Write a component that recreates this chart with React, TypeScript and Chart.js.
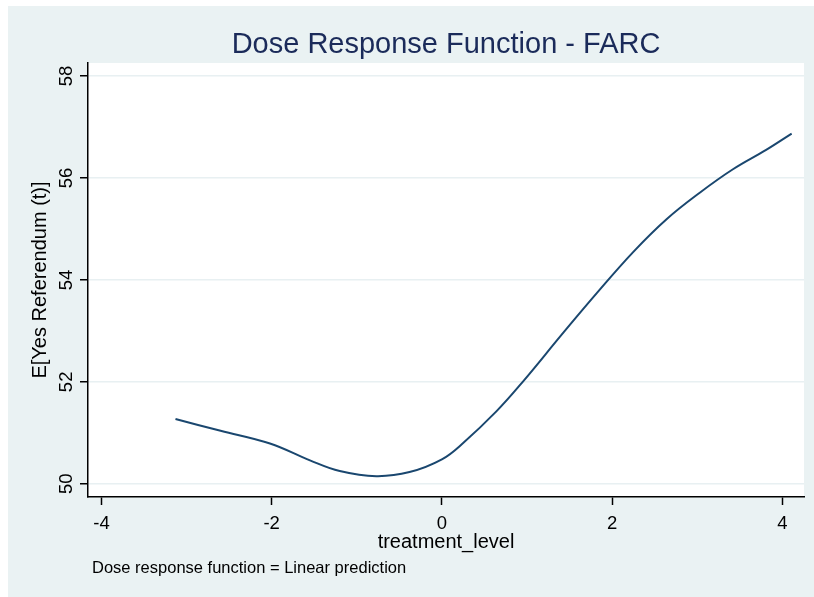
import React, { useEffect, useRef } from 'react';
import { Chart, registerables } from 'chart.js';

Chart.register(...registerables);

// ---- data ----
const treatmentLevel = [-3.13, -2.6, -2.02, -1.55, -1.2, -0.77, -0.38, 0.0, 0.25, 0.64, 0.95, 1.42, 1.82, 2.25, 2.64, 3.03, 3.42, 3.81, 4.11];
const expectedYes = [51.27, 51.04, 50.79, 50.46, 50.25, 50.15, 50.23, 50.48, 50.8, 51.42, 52.0, 52.95, 53.74, 54.55, 55.19, 55.71, 56.17, 56.55, 56.87];
const xTicks = [-4, -2, 0, 2, 4];
const yTicks = [50, 52, 54, 56, 58];
const titleText = 'Dose Response Function - FARC';
const xTitle = 'treatment_level';
const yTitle = 'E[Yes Referendum (t)]';
const noteText = 'Dose response function = Linear prediction';

const FONT = "'Liberation Sans', Arial, sans-serif";
const W = 806;
const H = 591;

const textPlugin = {
  id: 'stataText',
  beforeDraw(chart: any) {
    const { ctx, chartArea } = chart;
    ctx.save();
    ctx.fillStyle = '#ffffff';
    ctx.fillRect(chartArea.left, chartArea.top, chartArea.right - chartArea.left, chartArea.bottom - chartArea.top);
    ctx.restore();
  },
  afterDraw(chart: any) {
    const { ctx, chartArea, scales } = chart;
    const cx = (chartArea.left + chartArea.right) / 2;
    const cy = (chartArea.top + chartArea.bottom) / 2;
    ctx.save();
    // title
    ctx.fillStyle = '#1b2b5a';
    ctx.font = `29px ${FONT}`;
    ctx.textAlign = 'center';
    ctx.textBaseline = 'alphabetic';
    ctx.fillText(titleText, cx, 47.3);
    // x title
    ctx.fillStyle = '#000000';
    ctx.font = `20px ${FONT}`;
    ctx.fillText(xTitle, cx, 542);
    // y title
    ctx.save();
    ctx.translate(37.5, cy);
    ctx.rotate(-Math.PI / 2);
    ctx.fillText(yTitle, 0, 0);
    ctx.restore();
    // y tick labels
    ctx.font = `18.5px ${FONT}`;
    yTicks.forEach((v) => {
      const py = scales.y.getPixelForValue(v);
      ctx.save();
      ctx.translate(63.7, py);
      ctx.rotate(-Math.PI / 2);
      ctx.fillText(String(v), 0, 0);
      ctx.restore();
    });
    // note
    ctx.textAlign = 'left';
    ctx.font = `16.5px ${FONT}`;
    ctx.fillText(noteText, 84, 567.3);
    ctx.restore();
  },
};

export default function App() {
  const ref = useRef<HTMLCanvasElement | null>(null);
  useEffect(() => {
    if (!ref.current) return;
    const chart = new Chart(ref.current, {
      type: 'line',
      data: {
        datasets: [
          {
            data: treatmentLevel.map((x, i) => ({ x, y: expectedYes[i] })),
            borderColor: '#1a476f',
            borderWidth: 2,
            pointRadius: 0,
            tension: 0.4,
            fill: false,
          },
        ],
      },
      options: {
        animation: false,
        responsive: false,
        maintainAspectRatio: false,
        layout: { padding: { top: 57, right: 10, left: 0, bottom: 0 } },
        plugins: {
          legend: { display: false },
          title: { display: false },
          tooltip: { enabled: false },
        },
        scales: {
          x: {
            type: 'linear',
            min: -4.158,
            max: 4.255,
            afterBuildTicks: (s: any) => {
              s.ticks = xTicks.map((v) => ({ value: v }));
            },
            afterFit: (s: any) => {
              s.height = 100;
            },
            grid: { drawOnChartArea: false, drawTicks: true, tickLength: 8, tickColor: '#000', tickWidth: 1.5 },
            border: { display: true, color: '#000', width: 1.5 },
            ticks: { font: { family: FONT, size: 18.5 }, color: '#000', padding: 8, maxRotation: 0, autoSkip: false },
          },
          y: {
            type: 'linear',
            min: 49.741,
            max: 58.255,
            afterBuildTicks: (s: any) => {
              s.ticks = yTicks.map((v) => ({ value: v }));
            },
            afterFit: (s: any) => {
              s.width = 80;
            },
            grid: { color: '#e8f0f2', lineWidth: 1.5, drawTicks: true, tickLength: 8, tickColor: '#000', tickWidth: 1.5 },
            border: { display: true, color: '#000', width: 1.5 },
            ticks: { display: false },
          },
        },
      } as any,
      plugins: [textPlugin],
    });
    return () => chart.destroy();
  }, []);
  return (
    <div style={{ position: 'absolute', left: 8, top: 6, width: W, height: H, background: '#eaf2f3' }}>
      <canvas ref={ref} width={W} height={H} style={{ display: 'block', width: W, height: H }} />
    </div>
  );
}
